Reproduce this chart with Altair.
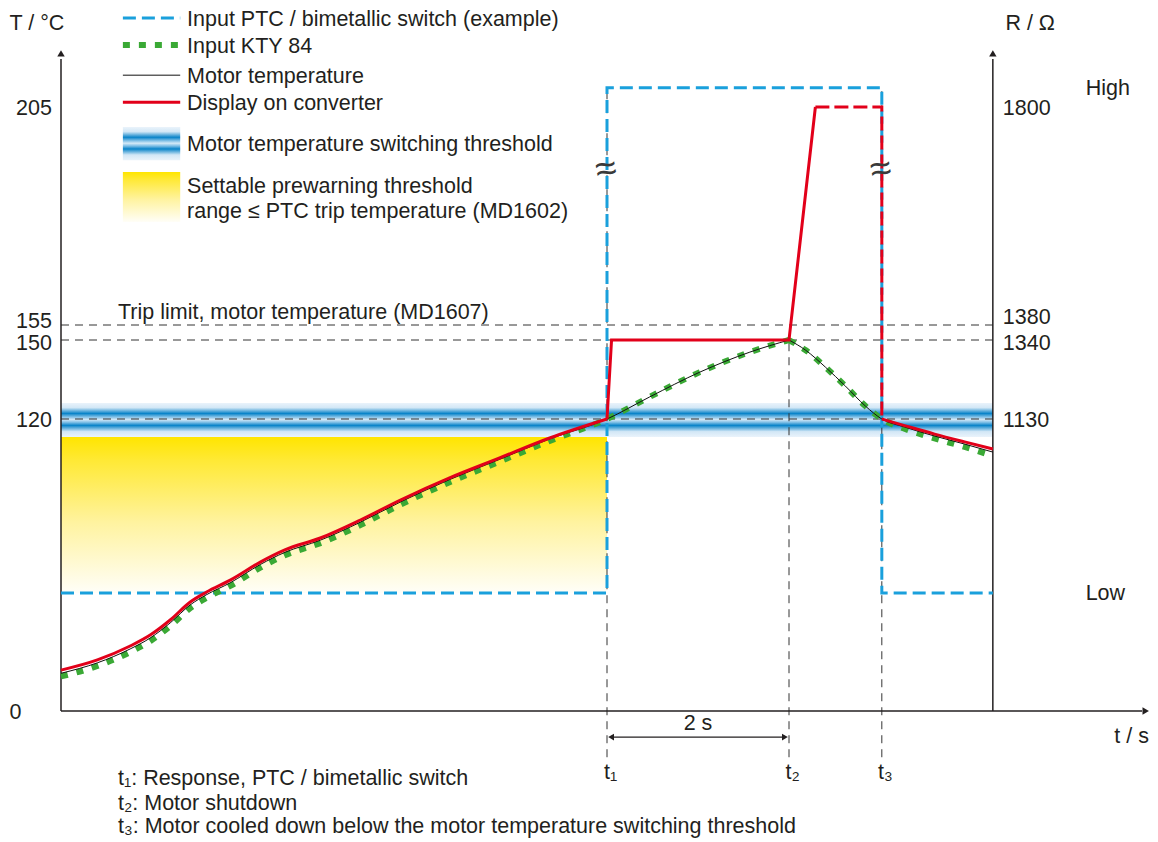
import altair as alt
import pandas as pd

FONT = "Liberation Sans"
TXT = "#231f20"
BLUE = "#1aa0dc"
GREEN = "#3aa935"
RED = "#e2001a"
FS = 21.5

# ---------------- data (t in s, T in degC) ----------------
t1, t2, t3 = 6.0, 8.0, 9.02
t_right = 10.24

ptc_t = [0.0, 6.0, 6.0, 9.02, 9.02, 10.24]
ptc_T = [48.5, 48.5, 209.4, 209.4, 48.5, 48.5]

heat_t = [0.0, 0.40, 0.76, 0.98, 1.20, 1.42, 1.60, 1.86, 2.19, 2.46, 2.85, 3.29, 3.73, 4.27, 4.82, 5.37, 6.0]
red_heat_T = [16.8, 21.0, 26.7, 31.2, 37.4, 44.8, 48.9, 53.8, 61.2, 66.2, 71.1, 78.5, 86.7, 95.8, 104.0, 112.2, 120.0]
motor_heat_T = [15.5, 19.8, 25.5, 30.0, 36.2, 43.6, 47.8, 52.7, 60.2, 65.2, 70.2, 77.6, 85.9, 95.1, 103.4, 111.8, 120.0]
kty_heat_T = [14.2, 18.5, 24.2, 28.7, 34.9, 42.3, 46.5, 51.4, 58.9, 64.0, 69.0, 76.4, 84.8, 94.0, 102.5, 111.0, 120.0]

rise_t = [6.47, 7.02, 7.57, 8.0]
rise_T = [128.4, 137.8, 145.4, 150.0]

cool_t = [8.0, 8.18, 8.40, 8.62, 8.84, 9.02, 9.27, 9.60, 9.93, 10.24]
motor_cool_T = [150.0, 146.2, 139.7, 132.5, 124.9, 120.0, 116.7, 113.0, 109.7, 106.4]
kty_cool_T = [150.0, 146.2, 139.7, 132.5, 124.9, 120.0, 116.0, 112.0, 108.5, 104.8]

red_hold_t = [6.0, 6.05, 8.0, 8.29]
red_hold_T = [120.0, 150.0, 150.0, 205.0]
red_max_t = [8.29, 9.02, 9.02]
red_max_T = [205.0, 205.0, 120.0]
red_cool_t = [9.02, 9.27, 9.60, 9.93, 10.24]
red_cool_T = [120.0, 117.3, 113.8, 110.6, 107.7]

left_ticks = [205, 155, 150, 120]
left_label_pos = [205, 156.2, 149.3, 120]
right_ticks = ["1800", "1380", "1340", "1130"]
right_label_pos = [205, 157.0, 149.3, 120]
ref_levels = [155, 150, 120]
threshold_band = [112.6, 126.1]
prewarn_range = [48.5, 112.6]

legend_labels = [
    "Input PTC / bimetallic switch (example)",
    "Input KTY 84",
    "Motor temperature",
    "Display on converter",
    "Motor temperature switching threshold",
    "Settable prewarning threshold",
    "range \u2264 PTC trip temperature (MD1602)",
]
notes = [
    "t\u2081: Response, PTC / bimetallic switch",
    "t\u2082: Motor shutdown",
    "t\u2083: Motor cooled down below the motor temperature switching threshold",
]

# ---------------- scales ----------------
W = 1089
xs = alt.Scale(domain=[0, W / 91.0], nice=False, zero=False)
ys = alt.Scale(domain=[0, 120, 150, 155, 205], range=[703, 411, 332, 317, 99],
               nice=False, zero=False)


def X(f="t"):
    return alt.X(f"{f}:Q", scale=xs, axis=None)


def Y(f="T"):
    return alt.Y(f"{f}:Q", scale=ys, axis=None)


def df_line(ts, Ts, seg=0):
    return pd.DataFrame({"t": ts, "T": Ts, "i": list(range(len(ts))), "seg": seg})


layers = []

# yellow prewarning range
yellow = pd.DataFrame({"t": [0.0], "t2": [t1], "T": [prewarn_range[0]], "T2": [prewarn_range[1]]})
yellow_grad = {"gradient": "linear", "x1": 0, "x2": 0, "y1": 1, "y2": 0,
               "stops": [{"offset": 0, "color": "#fffef8"}, {"offset": 0.45, "color": "#fff3a0"},
                         {"offset": 0.85, "color": "#ffe935"}, {"offset": 1, "color": "#ffe500"}]}
layers.append(alt.Chart(yellow).mark_rect(fill=yellow_grad).encode(x=X(), x2="t2:Q", y=Y(), y2="T2:Q"))

# blue threshold band
band_grad = {"gradient": "linear", "x1": 0, "x2": 0, "y1": 0, "y2": 1,
             "stops": [{"offset": 0, "color": "#eaf3fb"}, {"offset": 0.14, "color": "#d2e7f6"},
                       {"offset": 0.31, "color": "#0a84c9"}, {"offset": 0.41, "color": "#7fbfe6"},
                       {"offset": 0.49, "color": "#d4e9f7"}, {"offset": 0.57, "color": "#7fbfe6"},
                       {"offset": 0.66, "color": "#0a84c9"}, {"offset": 0.84, "color": "#d2e7f6"},
                       {"offset": 1, "color": "#eaf3fb"}]}
band = pd.DataFrame({"t": [0.0], "t2": [t_right], "T": [threshold_band[0]], "T2": [threshold_band[1]]})
layers.append(alt.Chart(band).mark_rect(fill=band_grad).encode(x=X(), x2="t2:Q", y=Y(), y2="T2:Q"))

# dashed reference lines
refs = pd.DataFrame({"T": ref_levels, "t": 0.0, "t2": t_right})
layers.append(alt.Chart(refs).mark_rule(color="#333333", strokeWidth=1, strokeDash=[8, 6])
              .encode(x=X(), x2="t2:Q", y=Y()))

vert = pd.DataFrame({"t": [t1, t2, t3], "T": [-19, -19, -19], "T2": [209.4, 150, 209.4]})
layers.append(alt.Chart(vert).mark_rule(color="#333333", strokeWidth=1, strokeDash=[8, 6])
              .encode(x=X(), y=Y(), y2="T2:Q"))

# axes
axes_v = pd.DataFrame({"t": [0.0, t_right], "T": [0, 0], "T2": [216, 216]})
layers.append(alt.Chart(axes_v).mark_rule(color=TXT, strokeWidth=1.5).encode(x=X(), y=Y(), y2="T2:Q"))
axes_h = pd.DataFrame({"t": [0.0], "t2": [11.88], "T": [0]})
layers.append(alt.Chart(axes_h).mark_rule(color=TXT, strokeWidth=1.5).encode(x=X(), x2="t2:Q", y=Y()))
up_heads = pd.DataFrame({"t": [0.0, t_right], "T": [217.3, 217.3]})
layers.append(alt.Chart(up_heads).mark_point(shape="triangle-up", filled=True, size=55, color=TXT, opacity=1)
              .encode(x=X(), y=Y()))
right_head = pd.DataFrame({"t": [11.92], "T": [0]})
layers.append(alt.Chart(right_head).mark_point(shape="triangle-right", filled=True, size=55, color=TXT, opacity=1)
              .encode(x=X(), y=Y()))

# 2 s dimension arrow
dim = pd.DataFrame({"t": [6.04], "t2": [7.96], "T": [-10.7]})
layers.append(alt.Chart(dim).mark_rule(color=TXT, strokeWidth=1.2).encode(x=X(), x2="t2:Q", y=Y()))
dl = pd.DataFrame({"t": [6.045], "T": [-10.7]})
dr = pd.DataFrame({"t": [7.955], "T": [-10.7]})
layers.append(alt.Chart(dl).mark_point(shape="triangle-left", filled=True, size=45, color=TXT, opacity=1)
              .encode(x=X(), y=Y()))
layers.append(alt.Chart(dr).mark_point(shape="triangle-right", filled=True, size=45, color=TXT, opacity=1)
              .encode(x=X(), y=Y()))

# PTC input
layers.append(alt.Chart(df_line(ptc_t, ptc_T)).mark_line(color=BLUE, strokeWidth=3, strokeDash=[13, 6])
              .encode(x=X(), y=Y(), order="i:Q"))

# KTY input (green dotted)
kty = pd.concat([df_line(heat_t + rise_t, kty_heat_T + rise_T, 0), df_line(cool_t, kty_cool_T, 1)])
layers.append(alt.Chart(kty).mark_line(color=GREEN, strokeWidth=6, strokeDash=[7, 9], interpolate="monotone",
                                       strokeCap="butt")
              .encode(x=X(), y=Y(), detail="seg:N", order="i:Q"))

# motor temperature
motor = pd.concat([df_line(heat_t + rise_t, motor_heat_T + rise_T, 0), df_line(cool_t, motor_cool_T, 1)])
layers.append(alt.Chart(motor).mark_line(color="#111111", strokeWidth=1, interpolate="monotone")
              .encode(x=X(), y=Y(), detail="seg:N", order="i:Q"))

# display on converter
red_smooth = pd.concat([df_line(heat_t, red_heat_T, 0), df_line(red_cool_t, red_cool_T, 1)])
layers.append(alt.Chart(red_smooth).mark_line(color=RED, strokeWidth=3, interpolate="monotone")
              .encode(x=X(), y=Y(), detail="seg:N", order="i:Q"))
layers.append(alt.Chart(df_line(red_hold_t, red_hold_T)).mark_line(color=RED, strokeWidth=3)
              .encode(x=X(), y=Y(), order="i:Q"))
layers.append(alt.Chart(df_line(red_max_t, red_max_T)).mark_line(color=RED, strokeWidth=3, strokeDash=[14, 5])
              .encode(x=X(), y=Y(), order="i:Q"))

# break marks
brk = pd.DataFrame({"t": [5.99, 9.01], "T": [190.5, 190.5], "s": ["\u2248", "\u2248"]})
layers.append(alt.Chart(brk).mark_text(font=FONT, fontSize=38, color="#3a3a3a", angle=350)
              .encode(x=X(), y=Y(), text="s:N"))


def txt(df, **kw):
    base = dict(font=FONT, fontSize=FS, color=TXT, baseline="middle", dy=2)
    base.update(kw)
    return alt.Chart(df).mark_text(**base).encode(x=X(), y=Y(), text="s:N")


# left / right tick labels
layers.append(txt(pd.DataFrame({"t": -0.1, "T": left_label_pos, "s": [str(v) for v in left_ticks]}),
                  align="right"))
layers.append(txt(pd.DataFrame({"t": [-0.5], "T": [0], "s": ["0"]}), align="center"))
layers.append(txt(pd.DataFrame({"t": 10.35, "T": right_label_pos, "s": right_ticks}), align="left"))

# axis titles / state labels
layers.append(txt(pd.DataFrame({"t": [-0.265], "T": [224.5], "s": ["T / \u00b0C"]}), align="center"))
layers.append(txt(pd.DataFrame({"t": [10.65], "T": [224.5], "s": ["R / \u03a9"]}), align="center"))
layers.append(txt(pd.DataFrame({"t": [11.26, 11.26], "T": [209.6, 48.9], "s": ["High", "Low"]}), align="left"))
layers.append(txt(pd.DataFrame({"t": [11.955], "T": [-9.9], "s": ["t / s"]}), align="right"))
layers.append(txt(pd.DataFrame({"t": [7.0], "T": [-4.5], "s": ["2 s"]}), align="center"))
layers.append(txt(pd.DataFrame({"t": [0.626], "T": [158.2], "s": ["Trip limit, motor temperature (MD1607)"]}),
                  align="left"))
layers.append(txt(pd.DataFrame({"t": [t1 + 0.04, t2 + 0.04, t3 + 0.04], "T": [-24.6] * 3,
                                "s": ["t\u2081", "t\u2082", "t\u2083"]}), align="center"))
layers.append(txt(pd.DataFrame({"t": 0.626, "T": [-27.0, -37.3, -46.8], "s": notes}), align="left"))

# legend
lg_x1, lg_x2, lg_tx = 0.68, 1.31, 1.385
lg_rows = [225.4, 219.2, 212.3, 206.1, 196.7, 187.1, 181.4]
layers.append(alt.Chart(pd.DataFrame({"t": [lg_x1], "t2": [lg_x2], "T": [lg_rows[0]]}))
              .mark_rule(color=BLUE, strokeWidth=3, strokeDash=[13, 6]).encode(x=X(), x2="t2:Q", y=Y()))
layers.append(alt.Chart(pd.DataFrame({"t": [lg_x1], "t2": [lg_x2], "T": [lg_rows[1]]}))
              .mark_rule(color=GREEN, strokeWidth=6, strokeDash=[7, 9]).encode(x=X(), x2="t2:Q", y=Y()))
layers.append(alt.Chart(pd.DataFrame({"t": [lg_x1], "t2": [lg_x2], "T": [lg_rows[2]]}))
              .mark_rule(color="#111111", strokeWidth=1).encode(x=X(), x2="t2:Q", y=Y()))
layers.append(alt.Chart(pd.DataFrame({"t": [lg_x1], "t2": [lg_x2], "T": [lg_rows[3]]}))
              .mark_rule(color=RED, strokeWidth=3).encode(x=X(), x2="t2:Q", y=Y()))
layers.append(alt.Chart(pd.DataFrame({"t": [lg_x1], "t2": [lg_x2], "T": [192.8], "T2": [200.4]}))
              .mark_rect(fill=band_grad).encode(x=X(), x2="t2:Q", y=Y(), y2="T2:Q"))
layers.append(alt.Chart(pd.DataFrame({"t": [lg_x1], "t2": [lg_x2], "T": [178.6], "T2": [190.1]}))
              .mark_rect(fill=yellow_grad).encode(x=X(), x2="t2:Q", y=Y(), y2="T2:Q"))
layers.append(txt(pd.DataFrame({"t": lg_tx, "T": lg_rows, "s": legend_labels}), align="left"))

chart = alt.layer(*layers).properties(
    width=W, height=832, autosize="none",
    padding={"left": 53, "top": 0, "right": 0, "bottom": 0},
    background="white",
).configure_view(stroke=None)

chart.save("out.html", embed_options={"renderer": "svg", "actions": False})
